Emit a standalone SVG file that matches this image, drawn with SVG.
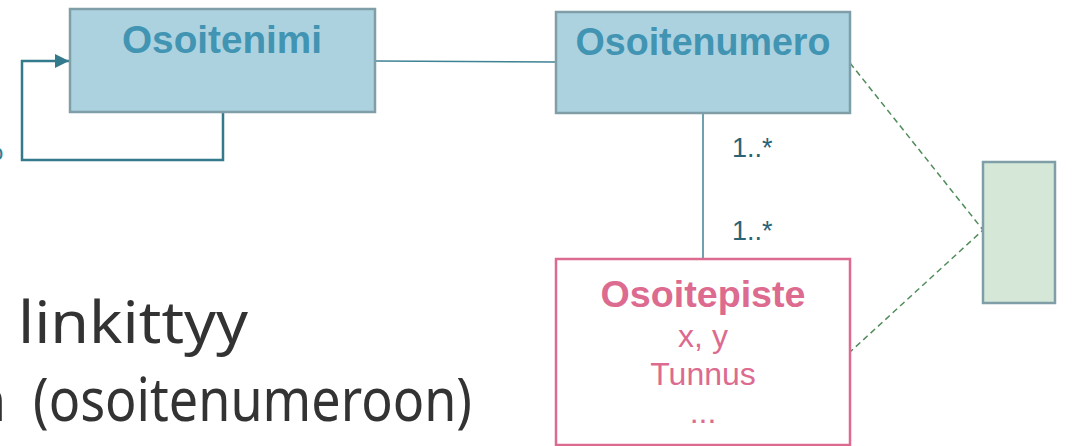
<svg xmlns="http://www.w3.org/2000/svg" width="1081" height="446" viewBox="0 0 1081 446">
<defs>
<style>
.blue{fill:#acd2e0;stroke:#7f9ea8;stroke-width:2.5}
.title{font-family:"Liberation Sans",Arial,sans-serif;font-weight:bold;text-anchor:middle}
.t-blue{fill:#4294b3}
.t-pink{fill:#dc6b8f}
.attr{font-family:"Liberation Sans",Arial,sans-serif;font-size:32px;fill:#dc6b8f;text-anchor:middle}
.mult{font-family:"Liberation Sans",Arial,sans-serif;font-size:27px;fill:#2b6376}
.body{font-family:"Noto Sans","DejaVu Sans",sans-serif;fill:#333333}
.conn{fill:none;stroke:#3f8294;stroke-width:1.5}
.dash{fill:none;stroke:#4f8c5a;stroke-width:1.5;stroke-dasharray:6 4}
</style>
<marker id="arr" markerWidth="14" markerHeight="14" refX="14" refY="7" orient="auto" markerUnits="userSpaceOnUse">
<path d="M0,0 L14,7 L0,14 Z" fill="#347a8d"/>
</marker>
</defs>
<rect width="1081" height="446" fill="#ffffff"/>
<g id="connectors">
<path class="conn" d="M375,61 L556,62"/>
<path class="conn" d="M703,113 L703,259"/>
<path d="M223,112 L223,160 L22,160 L22,61 L69,61" fill="none" stroke="#347a8d" stroke-width="2.5" marker-end="url(#arr)"/>
<path class="dash" d="M850,63 L983,230 L850,352"/>
<text class="mult" x="732" y="157">1..*</text>
<text class="mult" x="732" y="240">1..*</text>
</g>
<g id="osoitenimi">
<rect class="blue" x="70" y="9" width="305" height="103"/>
<text class="title t-blue" x="222" y="53" font-size="38" textLength="200" lengthAdjust="spacingAndGlyphs">Osoitenimi</text>
</g>
<g id="osoitenumero">
<rect class="blue" x="556" y="12" width="294" height="101"/>
<text class="title t-blue" x="703" y="55" font-size="38" textLength="255" lengthAdjust="spacingAndGlyphs">Osoitenumero</text>
</g>
<g id="osoitepiste">
<rect x="556" y="259" width="294" height="186" fill="#ffffff" stroke="#dc6b8f" stroke-width="2.5"/>
<text class="title t-pink" x="703" y="307" font-size="37" textLength="205" lengthAdjust="spacingAndGlyphs">Osoitepiste</text>
<text class="attr" x="703" y="347">x, y</text>
<text class="attr" x="703" y="385">Tunnus</text>
<text class="attr" x="703" y="423">...</text>
</g>
<g id="green-node">
<rect x="983" y="162" width="72" height="141" fill="#d5e8d8" stroke="#7f9ea8" stroke-width="2.5"/>
</g>
<g id="partial-label">
<text x="-9" y="160" font-family="Liberation Sans,Arial,sans-serif" font-size="22" fill="#347a8d">o</text>
</g>
<g id="body-text">
<text class="body" x="18" y="343" font-size="58" textLength="230" lengthAdjust="spacingAndGlyphs">linkittyy</text>
<text class="body" x="-26" y="421" font-size="58" textLength="32" lengthAdjust="spacingAndGlyphs">n</text>
<text class="body" x="33" y="421" font-size="60" textLength="439" lengthAdjust="spacingAndGlyphs">(osoitenumeroon)</text>
</g>
</svg>
